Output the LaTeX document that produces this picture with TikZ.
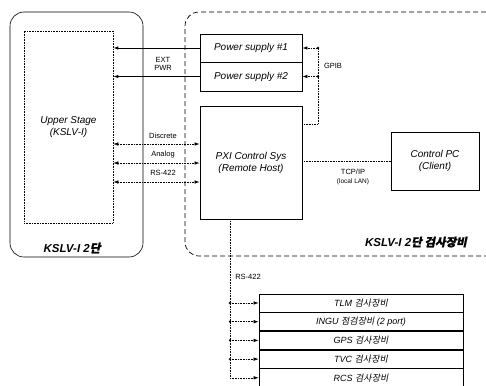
\documentclass[tikz,border=0pt]{standalone}
\usepackage{fontspec}
\setmainfont{Liberation Sans}
\newfontfamily\kr[FakeSlant=0.2]{Noto Sans CJK KR}
\newfontfamily\krb[FakeSlant=0.2,FakeBold=1.2]{Noto Sans CJK KR}
\usetikzlibrary{positioning,arrows.meta,calc}

\begin{document}
\begin{tikzpicture}[x=1pt,y=-1pt,>={Latex[length=5pt,width=3.5pt]},
  font=\itshape\fontsize{10}{12}\selectfont,
  box/.style={draw,line width=0.8pt,inner sep=0pt,align=center},
  thinbox/.style={draw,densely dotted,line width=0.6pt,inner sep=0pt,align=center},
  sig/.style={font=\upshape\fontsize{7.5}{8}\selectfont,inner sep=1pt},
  dl/.style={densely dotted,line width=0.6pt},
  dev/.style={box,line width=0.7pt,minimum width=204pt,minimum height=18pt,font=\itshape\fontsize{9}{10}\selectfont},
  ttl/.style={font=\bfseries\itshape\fontsize{11.5}{13}\selectfont,inner sep=0pt},
  jn/.style={circle,fill,inner sep=0.9pt}]
  \useasboundingbox (0,0) rectangle (486,385);
  % outlines of the two groups
  \draw[line width=0.6pt,rounded corners=14pt] (10,12) rectangle (143,257);
  \draw[dash pattern=on 5pt off 3pt,line width=0.7pt,rounded corners=14pt] (486,12) -- (185,12) -- (185,256) -- (486,256);
  \node[ttl] (stg) at (72,248) {KSLV-I 2{\krb 단}};
  \node[ttl,anchor=east] (gse) at (467,242) {KSLV-I 2{\krb 단 검사장비}};
  % boxes
  \node[thinbox,minimum width=89pt,minimum height=192pt] (upper) at (68.5,127) {Upper Stage\\(KSLV-I)};
  \node[box,minimum width=102pt,minimum height=28pt] (ps1) at (251,48) {Power supply \#1};
  \node[box,minimum width=102pt,minimum height=29pt] (ps2) at (251,76.5) {Power supply \#2};
  \node[box,minimum width=102pt,minimum height=113pt] (pxi) at (251,162.5) {PXI Control Sys\\(Remote Host)};
  \node[box,line width=0.6pt,minimum width=88pt,minimum height=58pt] (pc) at (435,161) {Control PC\\(Client)};
  % external power
  \draw[->,line width=0.8pt] (ps1.west) -- (ps1.west -| upper.east);
  \draw[->,line width=0.8pt] (ps2.west) -- (ps2.west -| upper.east);
  \node[sig,align=center] (pwr) at (163,64) {EXT\\PWR};
  % discrete, analog, RS-422
  \coordinate (dsc) at (pxi.west |- 0,144);
  \coordinate (ana) at (pxi.west |- 0,163);
  \coordinate (rs) at (pxi.west |- 0,182);
  \draw[<->,dl] (dsc -| upper.east) -- (dsc);
  \draw[<->,dl] (ana -| upper.east) -- (ana);
  \draw[<->,dl] (rs -| upper.east) -- (rs);
  \node[sig] (ldsc) at (163,136) {Discrete};
  \node[sig] (lana) at (163,155) {Analog};
  \node[sig] (lrs) at (163,173) {RS-422};
  % GPIB
  \coordinate (gp) at (pxi.east |- 0,124);
  \coordinate (gk) at (318,124);
  \draw[dl] (gp) -- (gk) -- (gk |- ps1.east);
  \draw[->,dl] (gk |- ps1.east) node[jn]{} -- (ps1.east);
  \draw[->,dl] (gk |- ps2.east) node[jn]{} -- (ps2.east);
  \node[sig] (lgp) at (333,66) {GPIB};
  % LAN
  \draw[dl] (pxi.east |- pc.west) -- (pc.west);
  \node[sig] (ltcp) at (353,172) {TCP/IP};
  \node[sig,font=\upshape\fontsize{6.5}{7}\selectfont] (llan) at (353,182) {(local LAN)};
  % lower equipment
  \node[dev] (tlm) at (361,303) {TLM {\kr 검사장비}};
  \node[dev,below=0pt of tlm] (ingu) {INGU {\kr 점검장비} (2 port)};
  \node[dev,below=0pt of ingu] (gps) {GPS {\kr 검사장비}};
  \node[dev,below=0pt of gps] (tvc) {TVC {\kr 검사장비}};
  \node[dev,below=0pt of tvc] (rcs) {RCS {\kr 검사장비}};
  \coordinate (bus) at (230,0);
  \draw[dl] (bus |- pxi.south) -- (bus |- rcs.west);
  \foreach \b in {tlm,ingu,gps,tvc}
    \draw[->,dl] (bus |- \b.west) node[jn]{} -- (\b.west);
  \draw[->,dl] (bus |- rcs.west) -- (rcs.west);
  \node[sig] (lbus) at (248,277) {RS-422};
\end{tikzpicture}
\end{document}
